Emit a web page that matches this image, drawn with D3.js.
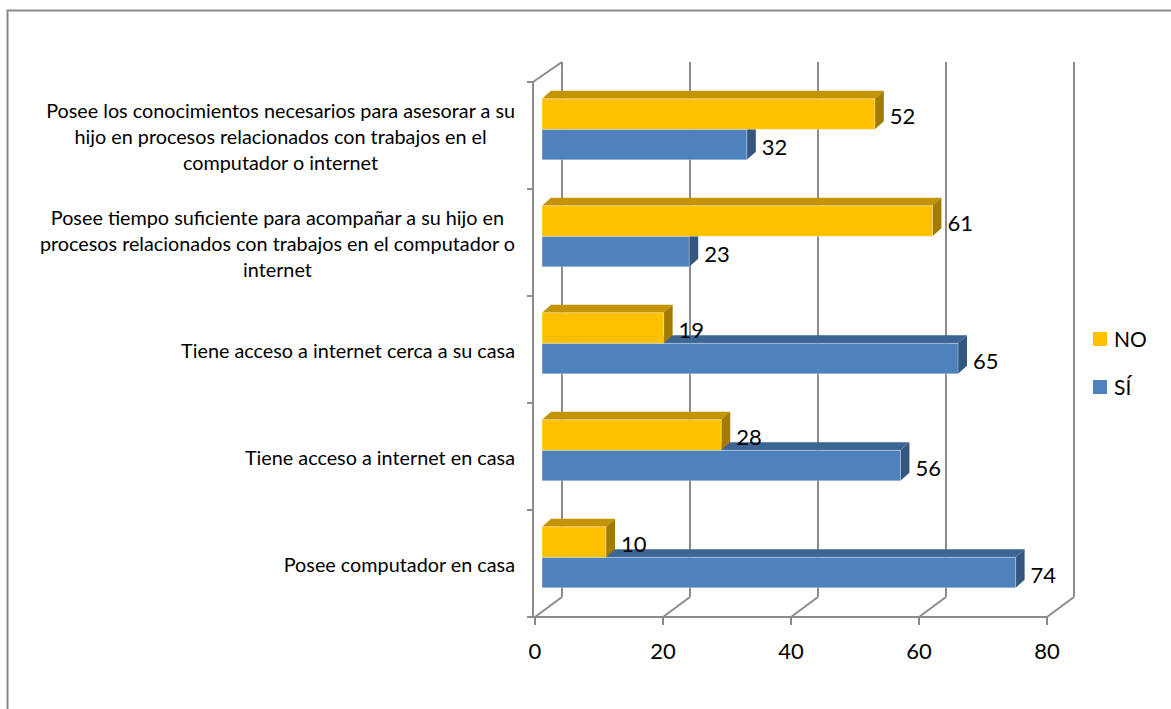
<!DOCTYPE html>
<html>
<head>
<meta charset="utf-8">
<script src="https://cdn.jsdelivr.net/npm/d3@7"></script>
<style>
  html, body { margin: 0; padding: 0; background: #ffffff; }
  svg { display: block; }
  text { font-family: Lato, "Open Sans", sans-serif; fill: #000; }
</style>
</head>
<body>
<svg id="chart" width="1171" height="709"></svg>
<script>
// Survey answers per item, listed top to bottom as drawn
const categories = [
  "Posee los conocimientos necesarios para asesorar a su hijo en procesos relacionados con trabajos en el computador o internet",
  "Posee tiempo suficiente para acompañar a su hijo en procesos relacionados con trabajos en el computador o internet",
  "Tiene acceso a internet cerca a su casa",
  "Tiene acceso a internet en casa",
  "Posee computador en casa"
];
// Line breaks used for the axis labels
const categoryLines = [
  ["Posee los conocimientos necesarios para asesorar a su", "hijo en procesos relacionados con trabajos en el", "computador o internet"],
  ["Posee tiempo suficiente para acompañar a su hijo en", "procesos relacionados con trabajos en el computador o", "internet"],
  ["Tiene acceso a internet cerca a su casa"],
  ["Tiene acceso a internet en casa"],
  ["Posee computador en casa"]
];
const seriesNames = ["NO", "SÍ"];
const noValues = [52, 61, 19, 28, 10];
const siValues = [32, 23, 65, 56, 74];
const xTicks = [0, 20, 40, 60, 80];

const colors = {
  "NO": { front: "#FFC000", top: "#C39300", side: "#A27B00" },
  "SÍ": { front: "#4F81BD", top: "#3D6593", side: "#34577F" }
};

const svg = d3.select("#chart");

// Outer chart frame (only the top and left edges fall inside the view)
svg.append("path")
  .attr("d", "M7.5,709 V10.5 H1171")
  .attr("fill", "none")
  .attr("stroke", "#898989")
  .attr("stroke-width", 2);

// Oblique 3D projection: depth runs up and to the right
const depth = { dx: 27, dy: -20 };
const barPlane = 0.26;          // bars sit a quarter of the way into the box
const barDepth = { dx: 9, dy: -8 };

const x = d3.scaleLinear().domain([0, 80]).range([535, 1047]);
const y = d3.scaleBand().domain(categories).range([82, 617]);
const ySeries = d3.scaleBand().domain(seriesNames).range([22, 83]);

const gridColor = "#8C8C8C";
const grid = svg.append("g")
  .attr("fill", "none")
  .attr("stroke", gridColor)
  .attr("stroke-width", 2);

const yTop = y.range()[0], yBot = y.range()[1];

// Back wall gridlines
grid.selectAll("line.back").data(xTicks).join("line")
  .attr("x1", d => x(d) + depth.dx).attr("x2", d => x(d) + depth.dx)
  .attr("y1", yTop + depth.dy).attr("y2", yBot + depth.dy);

// Floor diagonals and front edge
grid.selectAll("line.floor").data(xTicks).join("line")
  .attr("x1", d => x(d)).attr("y1", yBot)
  .attr("x2", d => x(d) + depth.dx).attr("y2", yBot + depth.dy);
grid.append("line")
  .attr("x1", x(0) - 2).attr("x2", x(80)).attr("y1", yBot).attr("y2", yBot);

// Left wall front edge and its top diagonal
grid.append("line")
  .attr("x1", x(0) - 2).attr("x2", x(0) - 2)
  .attr("y1", yTop).attr("y2", yBot);
grid.append("line")
  .attr("x1", x(0) - 2).attr("y1", yTop)
  .attr("x2", x(0) + depth.dx).attr("y2", yTop + depth.dy);

// Category axis ticks
const yBounds = categories.map(c => y(c)).concat([yBot]);
grid.selectAll("line.ytick").data(yBounds).join("line")
  .attr("x1", x(0) - 8).attr("x2", x(0) - 2)
  .attr("y1", d => d).attr("y2", d => d);

// Value axis ticks and labels
grid.selectAll("line.xtick").data(xTicks).join("line")
  .attr("x1", d => x(d)).attr("x2", d => x(d))
  .attr("y1", yBot).attr("y2", yBot + 8);
svg.append("g").selectAll("text").data(xTicks).join("text")
  .attr("x", d => x(d)).attr("y", yBot + 42)
  .attr("text-anchor", "middle")
  .style("font-size", "22px")
  .text(d => d);

// Category labels: multi-line blocks, centred lines, block right-aligned
const labelRight = 515;
const lineGap = 26;
const labels = svg.append("g").style("font-size", "19.8px");
categories.forEach((c, i) => {
  const lines = categoryLines[i];
  const g = labels.append("g");
  const texts = g.selectAll("text").data(lines).join("text")
    .attr("text-anchor", "middle")
    .attr("y", (d, k) => y(c) + y.bandwidth() / 2 + (k - (lines.length - 1) / 2) * lineGap + 8)
    .text(d => d);
  const widest = d3.max(texts.nodes(), n => n.getComputedTextLength());
  texts.attr("x", labelRight - widest / 2);
});

// Bars
const bx = v => x(v) + depth.dx * barPlane;
const by = c => y(c) + depth.dy * barPlane;

const rows = categories.map((c, i) => ({ c, NO: noValues[i], "SÍ": siValues[i] }));
const barsG = svg.append("g");

function drawBar(g, c, s, v) {
  const col = colors[s];
  const x0 = bx(0), x1 = bx(v);
  const y0 = by(c) + ySeries(s), h = ySeries.bandwidth();
  const y1 = y0 + h;
  const { dx, dy } = barDepth;
  g.append("path") // top face
    .attr("d", `M${x0},${y0} L${x0 + dx},${y0 + dy} L${x1 + dx},${y0 + dy} L${x1},${y0} Z`)
    .attr("fill", col.top);
  g.append("path") // side face
    .attr("d", `M${x1},${y0} L${x1 + dx},${y0 + dy} L${x1 + dx},${y1 + dy} L${x1},${y1} Z`)
    .attr("fill", col.side);
  g.append("rect") // front face
    .attr("x", x0).attr("y", y0).attr("width", x1 - x0).attr("height", h)
    .attr("fill", col.front)
    .attr("stroke", "rgba(255,255,255,0.35)").attr("stroke-width", 1);
}

rows.forEach(r => {
  const g = barsG.append("g");
  drawBar(g, r.c, "SÍ", r["SÍ"]);
  drawBar(g, r.c, "NO", r.NO);
});

// Value labels
const valueLabels = svg.append("g").style("font-size", "22px");
rows.forEach(r => {
  seriesNames.forEach(s => {
    valueLabels.append("text")
      .attr("x", bx(r[s]) + barDepth.dx + 6)
      .attr("y", by(r.c) + ySeries(s) + ySeries.bandwidth() / 2 + 10)
      .text(r[s]);
  });
});

// Legend
const legend = svg.append("g");
const legendRows = [{ s: "NO", y: 332 }, { s: "SÍ", y: 380 }];
legendRows.forEach(d => {
  legend.append("rect")
    .attr("x", 1093).attr("y", d.y).attr("width", 14).attr("height", 14)
    .attr("fill", colors[d.s].front);
  legend.append("text")
    .attr("x", 1114).attr("y", d.y + 15)
    .style("font-size", "21px")
    .text(d.s);
});
</script>
</body>
</html>
